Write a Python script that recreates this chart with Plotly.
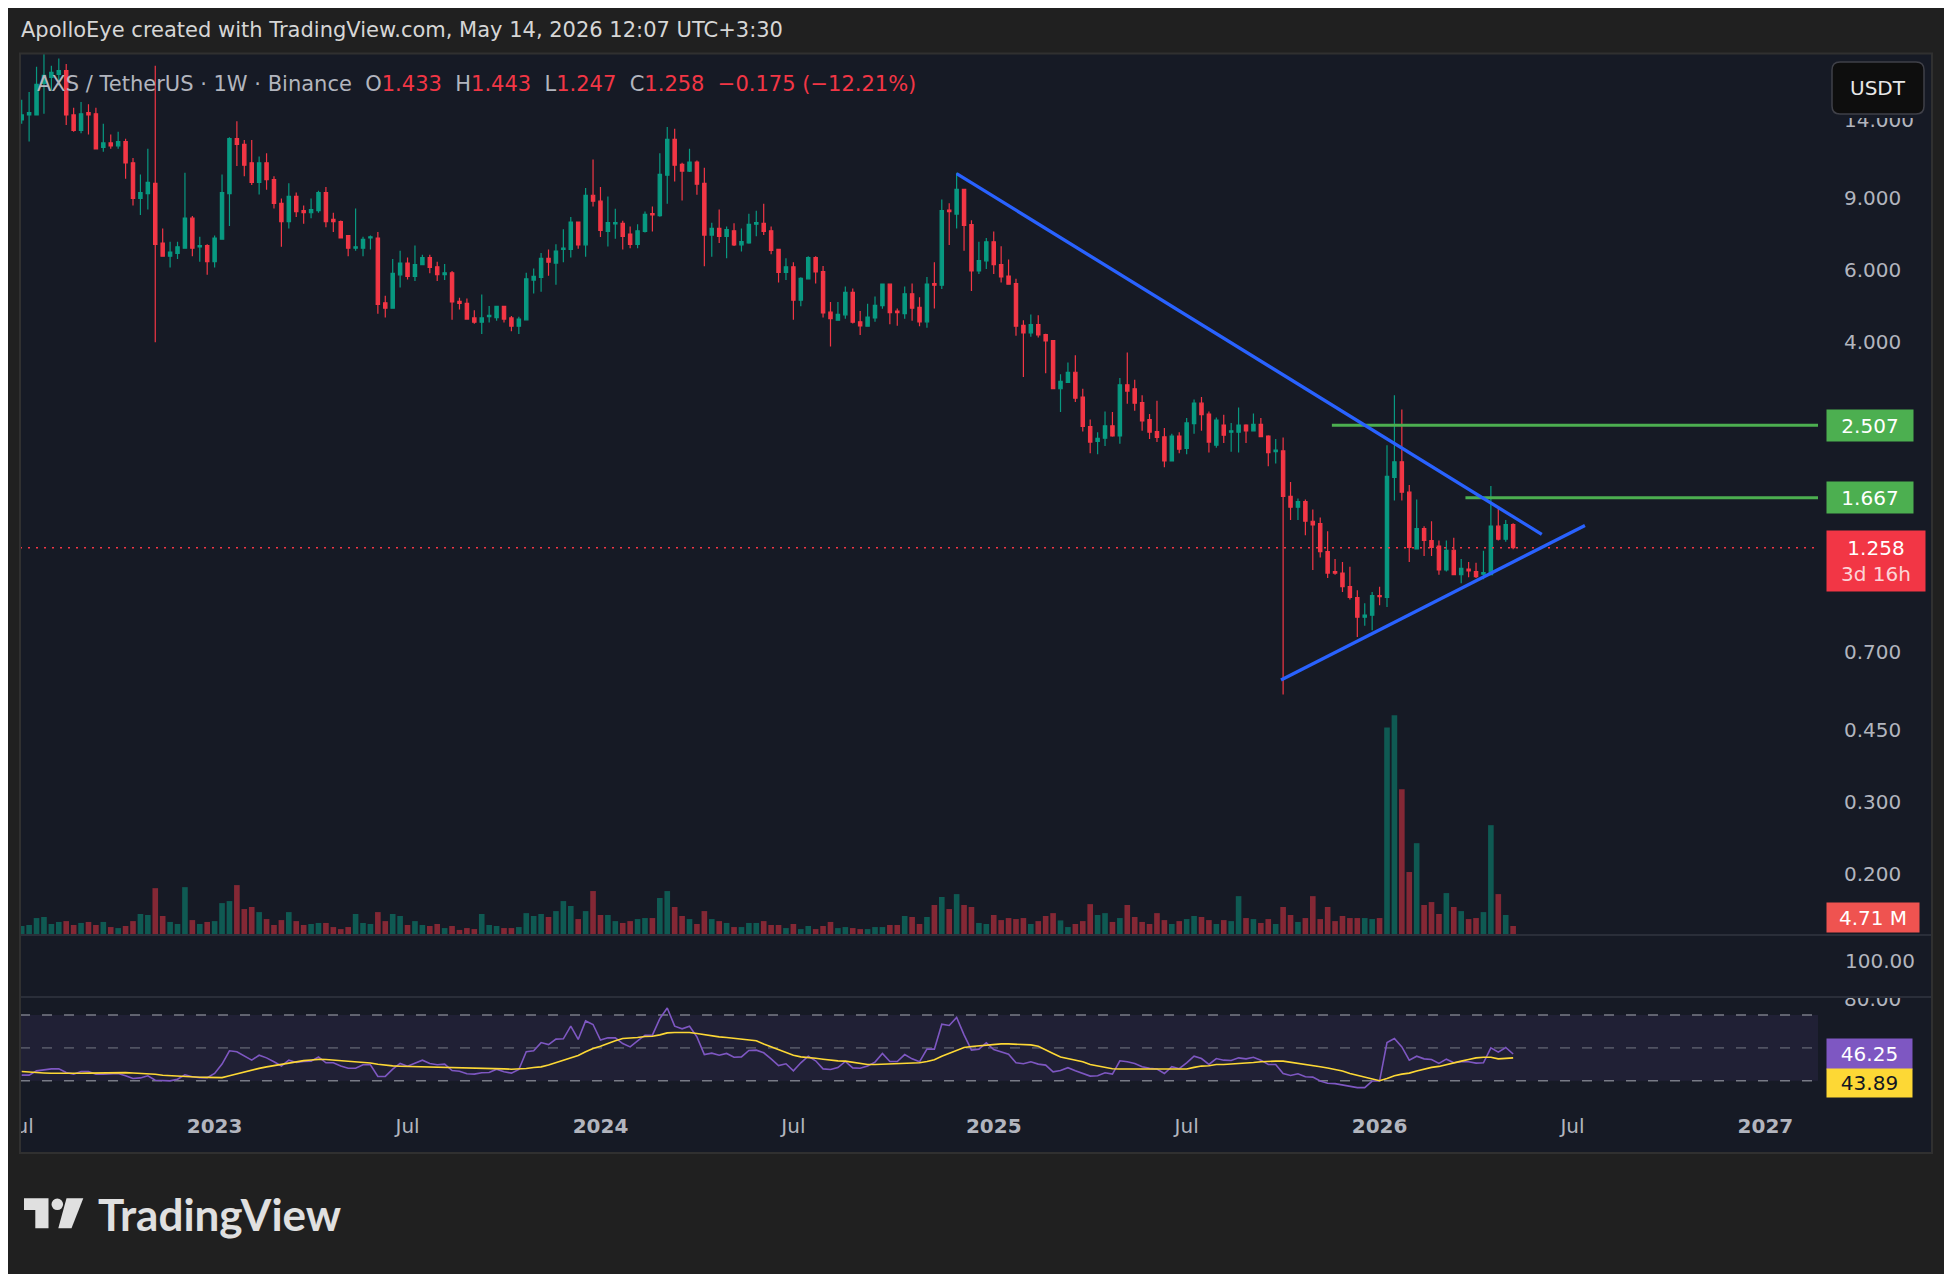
import numpy as np
import pandas as pd
import plotly.graph_objects as go

# ---------------- data ----------------
first_week = "2022-07-04"
n_weeks = 202
dates = pd.date_range(start=first_week, periods=n_weeks, freq="7D")

open_ = [14.0, 14.4, 14.4, 17.2, 17.8, 18.1, 18.5, 14.4, 13.2, 14.6,
         14.5, 12.0, 12.3, 12.1, 12.4, 11.0, 9.0, 9.25, 9.8, 7.0,
         6.5, 6.6, 6.8, 8.05, 6.85, 6.9, 6.3, 7.15, 9.25, 12.6,
         12.2, 11.0, 9.85, 11.0, 10.0, 8.75, 7.9, 9.1, 8.4, 8.3,
         8.4, 9.3, 8.0, 7.9, 7.3, 6.8, 6.8, 7.2, 7.2, 5.0,
         4.85, 5.85, 6.25, 5.8, 6.2, 6.45, 6.12, 5.86, 5.92, 5.04,
         4.98, 4.59, 4.48, 4.62, 4.6, 4.9, 4.59, 4.38, 4.54, 5.68,
         5.77, 6.42, 6.25, 6.75, 6.75, 7.88, 6.93, 9.16, 8.86, 7.47,
         7.8, 7.82, 7.36, 6.95, 7.47, 8.26, 8.17, 10.26, 12.55, 10.9,
         10.5, 11.05, 9.8, 7.32, 7.6, 7.27, 7.5, 6.93, 7.0, 7.78,
         7.82, 7.5, 6.75, 5.93, 6.12, 5.07, 5.72, 6.45, 5.96, 4.74,
         4.53, 4.67, 5.3, 4.49, 4.38, 4.59, 4.92, 5.55, 4.77, 4.7,
         5.26, 4.87, 4.49, 5.57, 5.52, 8.43, 8.24, 9.47, 7.76, 5.98,
         6.33, 7.05, 6.2, 5.81, 5.57, 4.4, 4.22, 4.42, 4.18, 4.04,
         3.08, 3.19, 3.38, 2.94, 2.49, 2.29, 2.33, 2.5, 2.36, 3.15,
         3.08, 2.85, 2.59, 2.42, 2.35, 2.05, 2.36, 2.2, 2.53, 2.84,
         2.67, 2.24, 2.51, 2.41, 2.41, 2.51, 2.43, 2.52, 2.36, 2.16,
         2.17, 1.68, 1.58, 1.63, 1.46, 1.44, 1.23, 1.10, 1.09, 1.01,
         0.95, 0.85, 0.86, 0.96, 0.95, 1.87, 2.04, 1.72, 1.25, 1.40,
         1.31, 1.27, 1.11, 1.24, 1.08, 1.115, 1.10, 1.083, 1.08, 1.42,
         1.32, 1.433]
high = [15.7, 16.4, 18.9, 20.4, 19.0, 19.8, 19.2, 15.0, 15.5, 15.3,
        15.0, 13.7, 12.9, 13.1, 12.6, 11.3, 10.3, 11.9, 19.0, 7.6,
        7.05, 7.05, 10.4, 8.15, 7.25, 6.95, 7.3, 10.3, 12.7, 13.9,
        12.5, 12.5, 11.4, 11.6, 10.2, 9.0, 9.8, 9.3, 8.65, 9.0,
        9.4, 9.6, 8.3, 7.95, 7.3, 8.5, 7.25, 7.3, 7.45, 5.2,
        6.4, 6.7, 6.45, 6.9, 6.55, 6.55, 6.3, 6.22, 5.98, 5.14,
        5.12, 4.79, 5.24, 4.91, 4.91, 4.91, 4.64, 4.62, 5.92, 6.06,
        6.62, 6.75, 6.95, 7.56, 8.1, 7.88, 9.54, 11.2, 9.6, 9.1,
        8.49, 7.93, 7.68, 7.78, 8.36, 8.6, 11.6, 13.46, 13.33, 11.0,
        11.9, 11.15, 10.7, 7.85, 8.46, 7.68, 7.82, 7.6, 8.26, 8.4,
        8.73, 7.68, 6.77, 6.42, 6.28, 5.77, 6.5, 6.5, 6.15, 5.02,
        5.02, 5.48, 5.42, 4.77, 4.97, 5.18, 5.57, 5.57, 4.84, 5.48,
        5.57, 5.16, 5.78, 6.28, 8.95, 8.76, 10.4, 9.5, 7.96, 7.05,
        7.2, 7.47, 6.87, 6.38, 5.72, 4.53, 4.68, 4.66, 4.2, 4.05,
        3.34, 3.57, 3.72, 3.08, 2.59, 2.41, 2.71, 2.7, 3.27, 3.78,
        3.24, 2.97, 2.67, 2.88, 2.47, 2.39, 2.41, 2.61, 2.9, 2.94,
        2.71, 2.62, 2.66, 2.54, 2.77, 2.52, 2.68, 2.61, 2.37, 2.32,
        2.34, 1.82, 1.66, 1.65, 1.56, 1.49, 1.38, 1.18, 1.16, 1.13,
        0.99, 0.92, 0.98, 1.01, 2.24, 2.97, 2.74, 1.79, 1.65, 1.42,
        1.46, 1.31, 1.31, 1.33, 1.18, 1.16, 1.156, 1.236, 1.78, 1.57,
        1.47, 1.443]
low = [13.7, 12.4, 14.4, 14.5, 16.5, 17.0, 13.6, 13.1, 13.0, 12.9,
       11.9, 11.7, 11.9, 11.9, 10.05, 8.65, 8.2, 8.45, 4.0, 6.5,
       6.1, 6.4, 6.8, 6.5, 6.3, 5.85, 6.1, 7.15, 7.7, 10.8,
       10.2, 9.7, 9.2, 9.45, 8.5, 6.85, 7.6, 8.1, 7.8, 8.05,
       8.3, 7.65, 7.45, 7.2, 6.5, 6.7, 6.5, 6.75, 4.7, 4.6,
       4.85, 5.45, 5.7, 5.65, 6.2, 5.9, 5.65, 5.68, 4.54, 4.81,
       4.54, 4.44, 4.19, 4.47, 4.52, 4.47, 4.26, 4.19, 4.54, 5.27,
       5.32, 5.82, 5.53, 6.28, 6.45, 6.78, 6.48, 8.6, 7.24, 6.86,
       7.17, 6.75, 6.8, 6.8, 7.43, 7.47, 8.12, 8.73, 9.9, 8.9,
       10.45, 9.19, 6.14, 6.48, 7.0, 6.42, 6.88, 6.67, 6.97, 7.27,
       7.32, 6.57, 5.6, 5.68, 4.54, 4.9, 5.72, 5.57, 4.6, 3.91,
       4.52, 4.57, 4.45, 4.17, 4.38, 4.49, 4.83, 4.43, 4.39, 4.57,
       4.52, 4.38, 4.34, 4.84, 5.4, 6.92, 7.6, 6.7, 5.34, 5.88,
       6.05, 5.88, 5.6, 5.55, 4.15, 3.29, 4.13, 4.11, 3.36, 3.07,
       2.7, 3.19, 2.86, 2.42, 2.14, 2.13, 2.23, 2.35, 2.26, 2.83,
       2.72, 2.43, 2.32, 2.28, 1.98, 2.05, 2.14, 2.13, 2.39, 2.43,
       2.15, 2.21, 2.27, 2.16, 2.15, 2.27, 2.43, 2.35, 1.99, 2.02,
       0.55, 1.47, 1.47, 1.35, 1.11, 1.19, 1.06, 1.08, 0.98, 0.94,
       0.76, 0.81, 0.79, 0.91, 0.90, 1.64, 1.64, 1.16, 1.25, 1.20,
       1.20, 1.08, 1.10, 1.08, 1.03, 1.065, 1.06, 1.053, 1.079, 1.31,
       1.30, 1.247]
close = [14.4, 14.6, 17.1, 18.0, 18.3, 18.5, 14.4, 13.2, 14.5, 14.4,
         11.9, 12.3, 12.1, 12.4, 11.0, 9.0, 9.3, 9.85, 6.95, 6.5,
         6.65, 6.85, 8.05, 6.8, 6.9, 6.3, 7.2, 9.3, 12.6, 12.2,
         10.85, 9.85, 11.0, 10.0, 8.75, 7.9, 9.1, 8.35, 8.3, 8.45,
         9.3, 7.9, 7.9, 7.2, 6.8, 6.85, 7.15, 7.25, 4.95, 4.85,
         5.9, 6.25, 5.8, 6.2, 6.45, 6.1, 5.86, 5.92, 5.02, 4.98,
         4.56, 4.48, 4.59, 4.66, 4.9, 4.56, 4.38, 4.56, 5.72, 5.8,
         6.42, 6.28, 6.69, 6.8, 7.88, 6.93, 9.16, 8.86, 7.52, 7.85,
         7.85, 7.27, 6.95, 7.5, 8.23, 8.2, 10.3, 12.55, 10.85, 10.5,
         11.05, 9.75, 7.32, 7.6, 7.27, 7.55, 6.93, 7.06, 7.78, 7.85,
         7.47, 6.71, 5.93, 6.12, 5.07, 5.74, 6.45, 5.95, 4.72, 4.57,
         4.68, 5.3, 4.48, 4.39, 4.61, 4.93, 5.55, 4.73, 4.73, 5.26,
         4.85, 4.49, 5.55, 5.52, 8.4, 8.35, 9.47, 7.73, 5.98, 6.34,
         7.05, 6.2, 5.78, 5.55, 4.38, 4.22, 4.42, 4.17, 4.03, 3.08,
         3.21, 3.38, 2.92, 2.49, 2.28, 2.33, 2.5, 2.36, 3.15, 3.04,
         2.84, 2.57, 2.41, 2.34, 2.05, 2.36, 2.19, 2.54, 2.84, 2.66,
         2.28, 2.58, 2.37, 2.43, 2.51, 2.43, 2.52, 2.35, 2.15, 2.18,
         1.68, 1.58, 1.63, 1.46, 1.43, 1.23, 1.09, 1.09, 1.01, 0.95,
         0.85, 0.86, 0.96, 0.955, 1.88, 2.04, 1.72, 1.26, 1.40, 1.31,
         1.26, 1.11, 1.24, 1.08, 1.12, 1.103, 1.068, 1.093, 1.42, 1.32,
         1.433, 1.258]
volume_m = [4.7, 5.3, 9.4, 10.0, 5.9, 7.1, 7.6, 5.3, 6.5, 7.1,
            5.3, 7.1, 4.1, 3.5, 4.7, 7.6, 11.8, 11.2, 27.0, 10.6,
            7.1, 5.9, 27.6, 8.2, 5.9, 7.1, 7.6, 18.2, 19.4, 28.8,
            14.7, 15.9, 12.9, 8.8, 5.3, 8.2, 12.9, 7.6, 5.3, 5.9,
            6.5, 6.5, 4.1, 2.9, 4.1, 11.8, 6.5, 5.9, 12.9, 7.6,
            11.8, 10.6, 5.3, 7.6, 5.3, 4.7, 5.9, 3.5, 4.7, 2.4,
            3.5, 2.9, 11.8, 5.3, 4.7, 3.5, 3.5, 4.1, 12.3, 10.6,
            11.8, 10.0, 13.5, 19.4, 16.5, 8.8, 13.5, 25.3, 11.2, 11.2,
            7.6, 6.5, 7.6, 8.8, 9.4, 9.4, 21.2, 25.3, 15.9, 10.6,
            8.8, 5.9, 13.5, 8.8, 7.6, 6.5, 4.1, 4.1, 6.5, 6.5,
            7.6, 5.3, 5.3, 3.5, 5.9, 2.9, 4.7, 2.9, 4.7, 7.1,
            3.5, 4.1, 3.5, 2.9, 2.9, 4.1, 4.1, 5.3, 5.3, 10.6,
            10.0, 5.9, 10.0, 17.1, 21.8, 14.7, 23.5, 17.1, 15.9, 6.5,
            5.9, 11.2, 8.2, 9.4, 8.8, 9.4, 5.9, 7.6, 10.6, 12.3,
            8.0, 4.1, 5.9, 7.6, 17.6, 11.2, 12.3, 7.1, 9.4, 17.1,
            10.0, 7.1, 5.9, 12.3, 8.2, 5.9, 7.6, 8.8, 10.6, 10.0,
            8.2, 5.9, 8.2, 7.6, 22.3, 9.4, 8.8, 6.5, 8.8, 5.9,
            15.9, 11.2, 7.1, 9.4, 22.3, 8.8, 15.9, 7.6, 10.6, 9.4,
            9.4, 9.4, 8.8, 9.4, 121.7, 128.8, 85.3, 36.5, 53.5, 17.1,
            18.8, 11.8, 24.1, 15.9, 13.5, 8.8, 9.4, 12.9, 64.1, 23.5,
            11.2, 4.71]
rsi = [33.4, 33.4, 36.0, 36.8, 37.2, 37.2, 35.0, 34.0, 35.6, 35.6,
       34.0, 34.0, 34.0, 34.4, 33.0, 31.3, 31.7, 33.0, 30.3, 29.9,
       29.9, 30.9, 33.6, 32.4, 31.9, 31.9, 34.4, 40.1, 48.2, 47.6,
       45.1, 42.5, 45.5, 43.9, 41.5, 39.0, 42.5, 41.1, 41.7, 41.9,
       44.5, 40.9, 40.9, 39.0, 37.6, 37.6, 39.7, 39.7, 32.6, 32.6,
       37.0, 40.5, 38.8, 40.5, 42.5, 40.5, 39.7, 40.1, 36.2, 35.8,
       34.2, 34.0, 34.8, 35.0, 37.0, 35.4, 34.6, 36.8, 47.6, 48.2,
       53.2, 52.0, 55.3, 55.5, 63.2, 55.1, 66.4, 64.2, 54.7, 56.1,
       56.1, 52.6, 50.6, 54.3, 57.7, 57.7, 67.8, 74.3, 63.2, 61.6,
       63.2, 56.7, 45.9, 46.8, 45.5, 46.6, 44.3, 44.5, 48.4, 48.6,
       47.0, 43.3, 39.2, 40.3, 36.0, 40.9, 44.9, 42.1, 37.2, 36.8,
       38.0, 41.7, 37.8, 37.6, 39.0, 41.3, 46.6, 41.7, 41.7, 45.9,
       43.3, 41.5, 49.2, 49.2, 64.4, 63.6, 68.5, 57.9, 48.6, 49.2,
       53.0, 49.0, 47.4, 46.1, 40.9, 40.3, 41.5, 40.1, 39.5, 35.4,
       36.2, 37.9, 36.1, 34.4, 32.8, 33.0, 34.8, 34.0, 42.1, 41.5,
       40.5, 38.5, 37.5, 37.1, 34.4, 38.5, 37.3, 40.9, 44.9, 43.5,
       39.9, 43.5, 42.5, 42.3, 43.9, 43.3, 44.3, 42.5, 39.9, 39.9,
       34.4, 33.2, 34.2, 32.4, 32.2, 29.8, 28.4, 28.2, 27.4, 26.4,
       25.8, 25.8, 29.8, 29.8, 53.2, 55.7, 50.6, 42.5, 44.9, 43.3,
       42.9, 40.5, 43.1, 40.9, 41.5, 41.5, 40.7, 40.9, 50.0, 47.4,
       50.2, 46.25]
rsi_ma = [35.6, 35.2, 34.8, 34.7, 34.5, 34.4, 34.4, 34.4, 34.5, 34.6,
          34.7, 34.8, 34.9, 35.0, 34.9, 34.7, 34.5, 34.3, 33.9, 33.3,
          33.0, 32.7, 32.4, 32.2, 32.1, 32.0, 31.9, 31.9, 33.0, 34.2,
          35.4, 36.7, 37.5, 38.4, 39.2, 40.0, 40.8, 41.5, 42.2, 42.6,
          43.0, 42.9, 42.6, 42.3, 41.9, 41.5, 41.2, 40.8, 40.0, 39.3,
          39.0, 38.8, 38.7, 38.6, 38.6, 38.5, 38.5, 38.4, 38.2, 38.0,
          37.8, 37.7, 37.6, 37.5, 37.4, 37.2, 37.0, 37.0, 37.4, 38.0,
          38.4, 39.5, 40.9, 42.1, 43.7, 45.3, 47.6, 49.6, 51.0, 52.8,
          54.3, 55.7, 55.9, 56.3, 56.9, 57.1, 57.9, 59.1, 59.3, 59.5,
          59.3, 58.7, 57.9, 57.1, 56.7, 56.3, 55.7, 55.3, 54.7, 54.3,
          52.4, 50.6, 49.0, 47.4, 45.5, 44.5, 44.3, 43.7, 43.1, 42.5,
          42.1, 41.9, 41.1, 40.3, 39.9, 39.9, 40.1, 40.3, 40.5, 40.9,
          40.9, 40.9, 41.7, 42.7, 44.9, 46.6, 48.6, 50.2, 50.8, 51.2,
          51.6, 52.2, 52.4, 52.4, 52.2, 52.2, 51.8, 51.0, 48.6, 46.6,
          44.4, 43.3, 42.5, 41.5, 39.9, 38.9, 38.1, 37.3, 37.1, 37.1,
          37.1, 36.9, 36.7, 36.7, 36.7, 36.7, 36.9, 37.1, 38.1, 38.9,
          39.1, 39.9, 39.9, 40.1, 40.3, 40.5, 41.1, 41.5, 41.9, 41.9,
          41.9, 41.3, 40.5, 39.9, 39.3, 38.5, 37.7, 36.9, 35.9, 34.4,
          33.2, 32.0, 30.8, 30.0, 31.4, 33.0, 34.0, 34.6, 35.9, 37.1,
          38.1, 38.7, 39.9, 40.9, 41.9, 42.9, 43.9, 44.3, 44.3, 43.3,
          43.5, 43.89]

price_ticks = [14, 9, 6, 4, 0.7, 0.45, 0.3, 0.2]
time_ticks = ["2022-07-04", "2023-01-02", "2023-07-03", "2024-01-01", "2024-07-01",
              "2025-01-06", "2025-07-07", "2026-01-05", "2026-07-06", "2027-01-04"]
time_labels = ["Jul", "2023", "Jul", "2024", "Jul", "2025", "Jul", "2026", "Jul", "2027"]

# drawings (date, price)
upper_trend_x = ["2024-12-02", "2026-06-07"]
upper_trend_y = [10.35, 1.356]
lower_trend_x = ["2025-10-04", "2026-07-17 18:00"]
lower_trend_y = [0.597, 1.426]
level_prices = [2.507, 1.667]
level_starts = ["2025-11-21", "2026-03-27"]
rsi_levels = [70, 50, 30]
x_range = ["2022-07-02 09:36", "2027-02-22 14:24"]

# ---------------- style / layout ----------------
W, H = 1952, 1274
OFF = 8  # the page shows the figure 8 px right/down of the window corner
def fx(px): return (px - OFF) / W
def fy(py): return 1 - (py - OFF) / H

UP, DOWN = "#089981", "#f23645"
BG, OUTER = "#161a25", "#202020"
TXT = "#b2b5be"
FONT = "DejaVu Sans"

last_close = close[-1]
chg = close[-1] - close[-2]
pct = chg / close[-2] * 100

vol_colors = ["rgba(8,153,129,0.5)" if c >= o else "rgba(242,54,69,0.5)"
              for o, c in zip(open_, close)]

fig = go.Figure()
fig.add_trace(go.Bar(x=dates, y=volume_m, marker_color=vol_colors, marker_line_width=0,
                     width=5.3 * 86400000, xaxis="x", yaxis="y", hoverinfo="skip"))
fig.add_trace(go.Candlestick(x=dates, open=open_, high=high, low=low, close=close,
                             xaxis="x", yaxis="y2", whiskerwidth=0,
                             increasing=dict(line=dict(color=UP, width=1.2), fillcolor=UP),
                             decreasing=dict(line=dict(color=DOWN, width=1.2), fillcolor=DOWN),
                             hoverinfo="skip"))
fig.add_trace(go.Scatter(x=x_range, y=[last_close, last_close], mode="lines", xaxis="x", yaxis="y2",
                         line=dict(color=DOWN, width=1.5, dash="2px,6px"), hoverinfo="skip"))
for lp, ls in zip(level_prices, level_starts):
    fig.add_trace(go.Scatter(x=[ls, x_range[1]], y=[lp, lp], mode="lines", xaxis="x", yaxis="y2",
                             line=dict(color="#4caf50", width=3), hoverinfo="skip"))
for tx, ty in [(upper_trend_x, upper_trend_y), (lower_trend_x, lower_trend_y)]:
    fig.add_trace(go.Scatter(x=tx, y=ty, mode="lines", xaxis="x", yaxis="y2",
                             line=dict(color="#2962ff", width=3.3), hoverinfo="skip"))
fig.add_trace(go.Scatter(x=dates, y=rsi, mode="lines", xaxis="x", yaxis="y3",
                         line=dict(color="#7e57c2", width=1.6), hoverinfo="skip"))
fig.add_trace(go.Scatter(x=dates, y=rsi_ma, mode="lines", xaxis="x", yaxis="y3",
                         line=dict(color="#fdd835", width=1.6), hoverinfo="skip"))

frame_top = 53.5
price_top_px, price_bot_px = frame_top, 934
rsi_top_px, rsi_bot_px = 997, 1105
p_top = 9 * np.exp((198.4 - price_top_px) / 177.5)
p_bot = 9 * np.exp((198.4 - price_bot_px) / 177.5)
rsi_hi = 30 + (1080.7 - rsi_top_px) / 1.6425
rsi_lo = 30 + (1080.7 - rsi_bot_px) / 1.6425
vol_top = (price_bot_px - price_top_px) * 0.589

axis_font = dict(family=FONT, size=20, color=TXT)
fig.update_layout(
    width=W, height=H, margin=dict(l=0, r=0, t=0, b=0, pad=0, autoexpand=False),
    paper_bgcolor=OUTER, plot_bgcolor=BG, showlegend=False,
    font=dict(family=FONT), boxgap=0.36,
    xaxis=dict(domain=[fx(20), fx(1818)], type="date", range=x_range, anchor="y3",
               showgrid=False, zeroline=False, showline=False, ticks="", automargin=False,
               tickvals=time_ticks,
               ticktext=[f"<b>{t}</b>" if t.isdigit() else t for t in time_labels],
               tickfont=axis_font, ticklabelstandoff=7, ticklabeloverflow="allow",
               rangeslider=dict(visible=False), fixedrange=True),
    yaxis=dict(domain=[fy(price_bot_px), fy(price_top_px)], range=[0, vol_top],
               visible=False, automargin=False, fixedrange=True),
    yaxis2=dict(overlaying="y", type="log", range=[np.log10(p_bot), np.log10(p_top)],
                side="right", anchor="x", showgrid=False, zeroline=False, ticks="",
                automargin=False, ticklabeloverflow="allow",
                tickvals=price_ticks, ticktext=[f"{v:.3f}" for v in price_ticks],
                tickfont=axis_font, ticklabelstandoff=25, fixedrange=True),
    yaxis3=dict(domain=[fy(rsi_bot_px), fy(rsi_top_px)], range=[rsi_lo, rsi_hi],
                side="right", anchor="x", showgrid=False, zeroline=False, ticks="",
                automargin=False, ticklabeloverflow="allow",
                tickvals=[80], ticktext=["80.00"], tickfont=axis_font,
                ticklabelstandoff=25, fixedrange=True),
)

shapes = []
shapes.append(dict(type="rect", xref="paper", yref="paper", x0=fx(20), x1=fx(1932),
                   y0=fy(1153), y1=fy(frame_top), fillcolor=BG, line=dict(width=0), layer="below"))
shapes.append(dict(type="rect", xref="x domain", yref="y3", x0=0, x1=1, y0=30, y1=70,
                   fillcolor="rgba(126,87,194,0.1)", line=dict(width=0), layer="below"))
for lv in rsi_levels:
    shapes.append(dict(type="line", xref="x domain", yref="y3", x0=0, x1=1, y0=lv, y1=lv,
                       line=dict(color="rgba(120,123,134,%s)" % ("0.55" if lv == 50 else "1"),
                                 width=1.6, dash="10px,12px"), layer="below"))
# clip covers (left edge of the time scale, top of the RSI scale, under the currency button)
shapes.append(dict(type="rect", xref="paper", yref="paper", x0=fx(0), x1=fx(19.5),
                   y0=fy(1160), y1=fy(1100), fillcolor=OUTER, line=dict(width=0), layer="above"))
shapes.append(dict(type="rect", xref="paper", yref="paper", x0=fx(1819), x1=fx(1931),
                   y0=fy(996), y1=fy(982), fillcolor=BG, line=dict(width=0), layer="above"))
shapes.append(dict(type="rect", xref="paper", yref="paper", x0=fx(1826), x1=fx(1930),
                   y0=fy(118), y1=fy(100), fillcolor=BG, line=dict(width=0), layer="above"))
for sy in (935, 997):
    shapes.append(dict(type="line", xref="paper", yref="paper", x0=fx(20), x1=fx(1932),
                       y0=fy(sy), y1=fy(sy), line=dict(color="#2a2e39", width=2), layer="above"))
shapes.append(dict(type="rect", xref="paper", yref="paper", x0=fx(20), x1=fx(1932),
                   y0=fy(1153), y1=fy(frame_top), line=dict(color="#303030", width=2), layer="above"))

def rrect(x0, y0, x1, y1, r):
    return (f"M {fx(x0 + r)},{fy(y0)} L {fx(x1 - r)},{fy(y0)} Q {fx(x1)},{fy(y0)} {fx(x1)},{fy(y0 + r)} "
            f"L {fx(x1)},{fy(y1 - r)} Q {fx(x1)},{fy(y1)} {fx(x1 - r)},{fy(y1)} "
            f"L {fx(x0 + r)},{fy(y1)} Q {fx(x0)},{fy(y1)} {fx(x0)},{fy(y1 - r)} "
            f"L {fx(x0)},{fy(y0 + r)} Q {fx(x0)},{fy(y0)} {fx(x0 + r)},{fy(y0)} Z")

shapes.append(dict(type="path", xref="paper", yref="paper", path=rrect(1832, 62, 1924, 114, 8),
                   fillcolor="#0e0e0e", line=dict(color="#3f4048", width=1.5), layer="above"))

def poly(pts):
    return "M " + " L ".join(f"{fx(a)},{fy(b)}" for a, b in pts) + " Z"

LOGO = "#e0e0e0"
shapes.append(dict(type="path", xref="paper", yref="paper",
                   path=poly([(24, 1198.3), (48.5, 1198.3), (48.5, 1228.3), (35.3, 1228.3),
                              (35.3, 1210), (24, 1210)]),
                   fillcolor=LOGO, line=dict(width=0), layer="above"))
shapes.append(dict(type="circle", xref="paper", yref="paper", x0=fx(51.5), x1=fx(63.1),
                   y0=fy(1210.1), y1=fy(1198.5), fillcolor=LOGO, line=dict(width=0), layer="above"))
shapes.append(dict(type="path", xref="paper", yref="paper",
                   path=poly([(66.5, 1198.3), (83.3, 1198.3), (71.5, 1228.3), (58.3, 1228.3)]),
                   fillcolor=LOGO, line=dict(width=0), layer="above"))
fig.update_layout(shapes=shapes)

ann = []
ann.append(dict(xref="paper", yref="paper", x=fx(19), y=fy(30), xanchor="left", yanchor="middle",
                text="ApolloEye created with TradingView.com, May 14, 2026 12:07 UTC+3:30",
                showarrow=False, font=dict(family=FONT, size=21, color="#d6d6d6")))
sp = "\u00a0\u00a0"
rs = lambda s: f"<span style='color:{DOWN}'>{s}</span>"
legend = (f"AXS / TetherUS · 1W · Binance{sp}O{rs(f'{open_[-1]:.3f}')}{sp}H{rs(f'{high[-1]:.3f}')}"
          f"{sp}L{rs(f'{low[-1]:.3f}')}{sp}C{rs(f'{close[-1]:.3f}')}{sp}"
          + rs(f"\u2212{abs(chg):.3f} (\u2212{abs(pct):.2f}%)"))
ann.append(dict(xref="paper", yref="paper", x=fx(35), y=fy(84), xanchor="left", yanchor="middle",
                text=legend, showarrow=False, font=dict(family=FONT, size=21, color=TXT)))
ann.append(dict(xref="paper", yref="paper", x=fx(1878), y=fy(88), xanchor="center", yanchor="middle",
                text="USDT", showarrow=False, font=dict(family=FONT, size=20, color="#e8e8e8")))
ann.append(dict(xref="paper", yref="paper", x=fx(1843), y=fy(961), xanchor="left", yanchor="middle",
                text="100.00", showarrow=False, font=axis_font))

box_x = fx(1826)
for lp in level_prices:
    ann.append(dict(xref="paper", yref="y2", x=box_x, y=np.log10(lp), xanchor="left", yanchor="middle",
                    text=f"{lp:.3f}", showarrow=False, bgcolor="#4caf50", width=86, height=31,
                    borderpad=0, font=dict(family=FONT, size=20, color="#ffffff")))
ann.append(dict(xref="paper", yref="y2", x=box_x, y=np.log10(last_close), xanchor="left", yanchor="top",
                yshift=18, text=f"{last_close:.3f}<br><span style='color:rgba(255,255,255,0.8)'>3d 16h</span>",
                showarrow=False, bgcolor=DOWN, width=98, height=60, borderpad=0,
                font=dict(family=FONT, size=20, color="#ffffff")))
ann.append(dict(xref="paper", yref="y", x=box_x, y=volume_m[-1], xanchor="left", yanchor="middle",
                yshift=8.5, text=f"{volume_m[-1]:.2f} M", showarrow=False, bgcolor="#ef5350",
                width=92, height=29, borderpad=0, font=dict(family=FONT, size=20, color="#ffffff")))
ann.append(dict(xref="paper", yref="y3", x=box_x, y=rsi[-1], xanchor="left", yanchor="middle",
                text=f"{rsi[-1]:.2f}", showarrow=False, bgcolor="#7e57c2", width=85, height=30,
                borderpad=0, font=dict(family=FONT, size=20, color="#ffffff")))
ann.append(dict(xref="paper", yref="y3", x=box_x, y=rsi_ma[-1], xanchor="left", yanchor="middle",
                yshift=-25.3, text=f"{rsi_ma[-1]:.2f}", showarrow=False, bgcolor="#fdd835", width=85,
                height=28, borderpad=0, font=dict(family=FONT, size=20, color="#131722")))
ann.append(dict(xref="paper", yref="paper", x=fx(96), y=fy(1214), xanchor="left", yanchor="middle",
                text="<b>TradingView</b>", showarrow=False, font=dict(family="Lato", size=44, color=LOGO)))
fig.update_layout(annotations=ann)

fig.write_html("out.html")
